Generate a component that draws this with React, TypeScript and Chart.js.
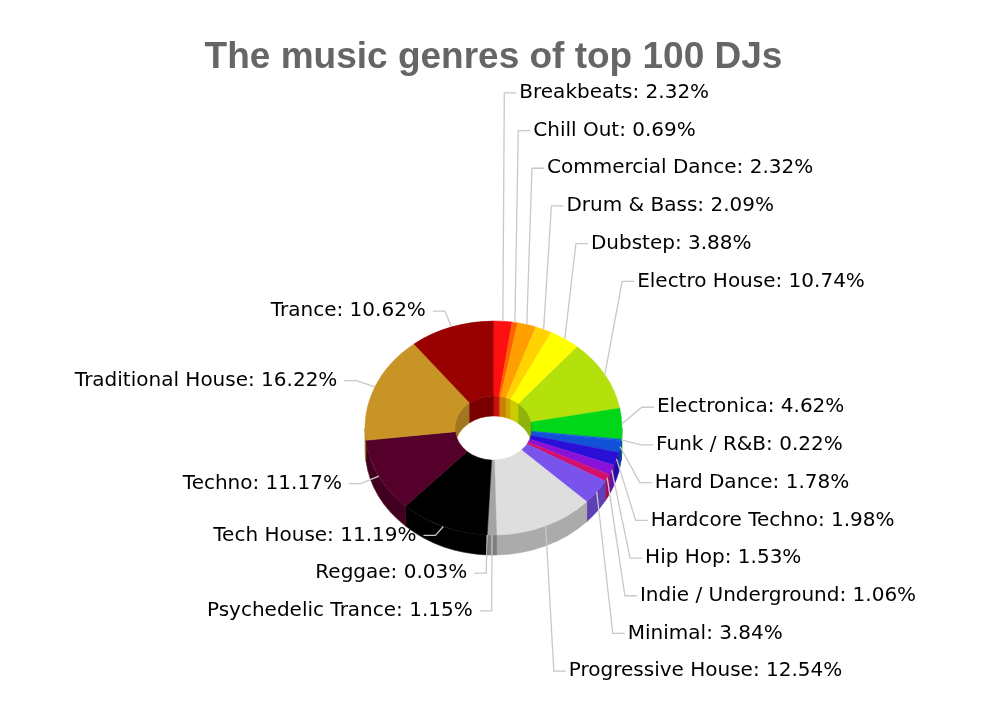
import { useEffect, useRef } from "react"
import { Chart, registerables } from "chart.js"

Chart.register(...registerables)

const chartTitle = "The music genres of top 100 DJs"

const genres = [
  "Breakbeats",
  "Chill Out",
  "Commercial Dance",
  "Drum & Bass",
  "Dubstep",
  "Electro House",
  "Electronica",
  "Funk / R&B",
  "Hard Dance",
  "Hardcore Techno",
  "Hip Hop",
  "Indie / Underground",
  "Minimal",
  "Progressive House",
  "Psychedelic Trance",
  "Reggae",
  "Tech House",
  "Techno",
  "Traditional House",
  "Trance",
]

const shares = [
  2.32, 0.69, 2.32, 2.09, 3.88, 10.74, 4.62, 0.22, 1.78, 1.98, 1.53, 1.06, 3.84,
  12.54, 1.15, 0.03, 11.19, 11.17, 16.22, 10.62,
]

const colors = [
  "#ff1010", "#ff6000", "#ffa000", "#ffd200", "#ffff00", "#b4e00c", "#00d718",
  "#0f62d6", "#1252d8", "#2a10d6", "#8a12d8", "#d4106c", "#7a52ec", "#dedede",
  "#a4a4a4", "#808080", "#000000", "#55002a", "#c99426", "#990000",
]

// look of the fake 3D
const TILT = 0.833 // vertical squash of the top face
const DEPTH = 20 // thickness in px
const LABEL_FONT = '20px "DejaVu Sans"'
const SLOT = 37.7 // label line height used for collision
const REACH = 20 // how far the connector bends out from the edge
const ARM = 12
const LABEL_TOP = 74
const LABEL_BOTTOM = 690

function shade(hex: string, f: number) {
  const n = parseInt(hex.slice(1), 16)
  const r = Math.round(((n >> 16) & 255) * f)
  const g = Math.round(((n >> 8) & 255) * f)
  const b = Math.round((n & 255) * f)
  return `rgb(${r},${g},${b})`
}

function wall(ctx: CanvasRenderingContext2D, x: number, y: number, r: number, a: number, b: number, color: string) {
  if (b <= a) return
  ctx.beginPath()
  ctx.ellipse(x, y, r, r * TILT, 0, a, b, false)
  ctx.ellipse(x, y + DEPTH, r, r * TILT, 0, b, a, true)
  ctx.closePath()
  ctx.fillStyle = color
  ctx.strokeStyle = color
  ctx.lineWidth = 0.6
  ctx.fill()
  ctx.stroke()
}

// weighted box distribution, items must be sorted by target
function distribute(items: { target: number; weight: number }[], size: number, lo: number, hi: number) {
  const groups = items.map((_, i) => ({ first: i, count: 1, pos: 0 }))
  const place = (g: { first: number; count: number; pos: number }) => {
    let s = 0
    let sw = 0
    for (let j = 0; j < g.count; j++) {
      const it = items[g.first + j]
      s += it.weight * (it.target - (j + 0.5) * size)
      sw += it.weight
    }
    g.pos = Math.min(Math.max(s / sw, lo), hi - g.count * size)
  }
  let changed = true
  while (changed) {
    groups.forEach(place)
    changed = false
    for (let i = groups.length - 1; i > 0; i--) {
      const a = groups[i - 1]
      const b = groups[i]
      if (a.pos + a.count * size > b.pos + 0.01) {
        a.count += b.count
        groups.splice(i, 1)
        changed = true
      }
    }
  }
  groups.forEach(place)
  const out: number[] = []
  groups.forEach((g) => {
    for (let j = 0; j < g.count; j++) out.push(g.pos + (j + 0.5) * size)
  })
  return out
}

const pie3d = {
  id: "pie3d",
  beforeDatasetsDraw(chart: any) {
    const ctx: CanvasRenderingContext2D = chart.ctx
    const arcs = chart.getDatasetMeta(0).data
    const PI = Math.PI
    // inner walls, only the back half shows through the hole
    arcs.forEach((arc: any, i: number) => {
      const p = arc.getProps(["x", "y", "startAngle", "endAngle", "innerRadius"], true)
      const c = shade(colors[i], 0.8)
      wall(ctx, p.x, p.y, p.innerRadius, Math.max(p.startAngle, -PI / 2), Math.min(p.endAngle, 0), c)
      wall(ctx, p.x, p.y, p.innerRadius, Math.max(p.startAngle, PI), Math.min(p.endAngle, 1.5 * PI), c)
    })
    // outer walls, front half
    arcs.forEach((arc: any, i: number) => {
      const p = arc.getProps(["x", "y", "startAngle", "endAngle", "outerRadius"], true)
      wall(ctx, p.x, p.y, p.outerRadius, Math.max(p.startAngle, 0), Math.min(p.endAngle, PI), shade(colors[i], 0.77))
    })
    const first = arcs[0]
    ctx.save()
    ctx.translate(first.x, first.y)
    ctx.scale(1, TILT)
    ctx.translate(-first.x, -first.y)
  },
  afterDatasetsDraw(chart: any) {
    const ctx: CanvasRenderingContext2D = chart.ctx
    ctx.restore()
    const arcs = chart.getDatasetMeta(0).data
    const info = arcs.map((arc: any, i: number) => {
      const p = arc.getProps(["x", "y", "startAngle", "endAngle", "outerRadius"], true)
      const mid = (p.startAngle + p.endAngle) / 2
      const cos = Math.cos(mid)
      const sin = Math.sin(mid)
      return {
        i,
        cx: p.x,
        cy: p.y,
        R: p.outerRadius,
        cos,
        sin,
        right: cos >= 0,
        natural: p.y + (p.outerRadius + REACH) * TILT * sin,
        y: 0,
      }
    })
    for (const right of [true, false]) {
      const side = info.filter((d: any) => d.right === right).sort((a: any, b: any) => a.natural - b.natural)
      if (!side.length) continue
      // crowded side: stretch the targets so the column opens up
      const amp = (side[0].R + REACH) * TILT
      const crowd = (side.length * SLOT) / (2 * amp)
      const spread = Math.max(1, Math.pow(crowd, 1.35))
      const ys = distribute(
        side.map((d: any) => ({ target: d.cy + (d.natural - d.cy) * spread, weight: shares[d.i] + 0.05 })),
        SLOT,
        LABEL_TOP,
        LABEL_BOTTOM
      )
      side.forEach((d: any, k: number) => (d.y = ys[k]))
    }
    ctx.save()
    ctx.font = LABEL_FONT
    ctx.textBaseline = "middle"
    info.forEach((d: any) => {
      const dir = d.right ? 1 : -1
      const ax = d.cx + d.R * d.cos
      const ay = d.cy + d.R * TILT * d.sin
      const bx = d.cx + (d.R + REACH) * d.cos
      ctx.beginPath()
      ctx.moveTo(ax, ay)
      ctx.lineTo(bx, d.y)
      ctx.lineTo(bx + dir * ARM, d.y)
      ctx.strokeStyle = "#c8c8c8"
      ctx.lineWidth = 1.3
      ctx.stroke()
      ctx.fillStyle = "#000000"
      ctx.textAlign = d.right ? "left" : "right"
      ctx.fillText(`${genres[d.i]}: ${shares[d.i].toFixed(2)}%`, bx + dir * (ARM + (d.right ? 3 : 7)), d.y)
    })
    ctx.restore()
  },
}

export default function App() {
  const canvasRef = useRef<HTMLCanvasElement>(null)
  const chartRef = useRef<Chart | null>(null)

  useEffect(() => {
    if (!canvasRef.current) return
    if (chartRef.current) chartRef.current.destroy()

    chartRef.current = new Chart(canvasRef.current, {
      type: "doughnut",
      data: {
        labels: genres,
        datasets: [
          {
            data: shares,
            backgroundColor: colors,
            borderColor: colors,
            borderWidth: 0.5,
            hoverOffset: 0,
            clip: false as any,
          },
        ],
      },
      options: {
        responsive: true,
        maintainAspectRatio: false,
        animation: false,
        radius: 128.5,
        cutout: "30%",
        layout: { padding: { left: 4, right: 0, top: 0, bottom: 0 } },
        plugins: {
          legend: { display: false },
          tooltip: { enabled: false },
          title: {
            display: true,
            text: chartTitle,
            color: "#666666",
            font: { family: '"Liberation Sans", Arial, sans-serif', size: 37, weight: "bold" },
            padding: { top: 36, bottom: 72.6 },
          },
        },
      },
      plugins: [pie3d],
    })

    return () => {
      if (chartRef.current) {
        chartRef.current.destroy()
        chartRef.current = null
      }
    }
  }, [])

  return (
    <div style={{ position: "fixed", left: 0, top: 0, width: 983, height: 703, background: "#ffffff" }}>
      <canvas ref={canvasRef} />
    </div>
  )
}
